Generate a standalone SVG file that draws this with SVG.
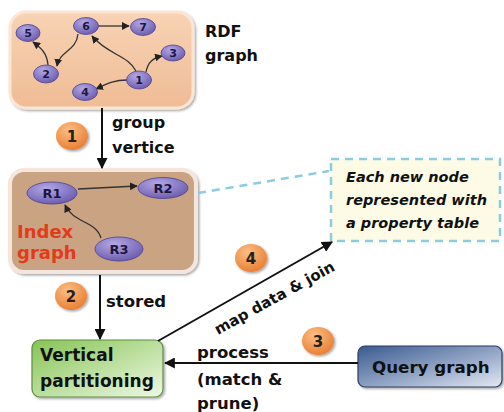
<svg xmlns="http://www.w3.org/2000/svg" width="504" height="412" viewBox="0 0 504 412">
<defs>
<linearGradient id="rdfFill" x1="0" y1="0" x2="0" y2="1"><stop offset="0" stop-color="#f8d3b4"/><stop offset="1" stop-color="#efbc95"/></linearGradient>
<radialGradient id="nodeFill" cx="0.4" cy="0.3" r="0.8"><stop offset="0" stop-color="#b3a8e6"/><stop offset="1" stop-color="#6554a8"/></radialGradient>
<radialGradient id="stepFill" cx="0.4" cy="0.3" r="0.8"><stop offset="0" stop-color="#fbbf85"/><stop offset="1" stop-color="#e8772a"/></radialGradient>
<linearGradient id="vpFill" x1="0" y1="0" x2="1" y2="1"><stop offset="0" stop-color="#86c454"/><stop offset="1" stop-color="#eef8e4"/></linearGradient>
<linearGradient id="qFill" x1="0" y1="0" x2="1" y2="1"><stop offset="0" stop-color="#3a5a90"/><stop offset="0.55" stop-color="#93a6c6"/><stop offset="1" stop-color="#e4e9f2"/></linearGradient>
<filter id="shadow" x="-20%" y="-20%" width="150%" height="150%"><feDropShadow dx="1.5" dy="1.5" stdDeviation="1.2" flood-color="#000" flood-opacity="0.35"/></filter>
<marker id="arr" viewBox="0 0 10 10" refX="9" refY="5" markerWidth="5.5" markerHeight="5.5" orient="auto"><path d="M0,0 L10,5 L0,10 z" fill="#111"/></marker>
<marker id="arrS" viewBox="0 0 10 10" refX="9" refY="5" markerWidth="6" markerHeight="6" orient="auto"><path d="M0,0 L10,5 L0,10 z" fill="#222"/></marker>
</defs>
<style>
.t{font-family:"DejaVu Sans",sans-serif;font-weight:bold;fill:#111}
.nl{font-family:"DejaVu Sans",sans-serif;font-weight:bold;fill:#1c1740;text-anchor:middle}
.node{fill:url(#nodeFill);stroke:#4d4290;stroke-width:0.8}
.step{fill:url(#stepFill);filter:url(#shadow)}
.conn{stroke:#111;stroke-width:2;fill:none}
.inner{stroke:#333;stroke-width:1.3;fill:none}
</style>

<g id="rdf-graph">
<rect x="10" y="12" width="183" height="96" rx="16" fill="url(#rdfFill)" stroke="#fbe6d6" stroke-width="3" filter="url(#shadow)"/>
<g class="inner">
<path d="M98,26 L129,26" marker-end="url(#arrS)"/>
<path d="M78,34 C76,52 60,50 57,66" marker-end="url(#arrS)"/>
<path d="M48,65 C47,53 41,48 33,42" marker-end="url(#arrS)"/>
<path d="M136,71 C128,55 108,55 92,36" marker-end="url(#arrS)"/>
<path d="M146,72 C148,62 153,58 162,56" marker-end="url(#arrS)"/>
<path d="M127,80 C112,80 105,85 96,89" marker-end="url(#arrS)"/>
</g>
<ellipse class="node" cx="28" cy="33" rx="12" ry="8.5"/><text class="nl" x="28" y="37" font-size="11">5</text>
<ellipse class="node" cx="86" cy="26" rx="12.5" ry="8.5"/><text class="nl" x="86" y="30" font-size="11">6</text>
<ellipse class="node" cx="143" cy="27" rx="12.5" ry="8.5"/><text class="nl" x="143" y="31" font-size="11">7</text>
<ellipse class="node" cx="173" cy="53" rx="12" ry="8"/><text class="nl" x="173" y="57" font-size="11">3</text>
<ellipse class="node" cx="46" cy="74" rx="12.5" ry="9"/><text class="nl" x="46" y="78" font-size="11">2</text>
<ellipse class="node" cx="139" cy="80" rx="12.5" ry="9"/><text class="nl" x="139" y="84" font-size="11">1</text>
<ellipse class="node" cx="85" cy="92" rx="12.5" ry="8.5"/><text class="nl" x="85" y="96" font-size="11">4</text>
<text class="t" x="205" y="37" font-size="16">RDF</text>
<text class="t" x="205" y="61" font-size="16">graph</text>
</g>

<g id="index-graph">
<rect x="10" y="170" width="186" height="102" rx="14" fill="#c9a382" stroke="#f4e6dc" stroke-width="4" filter="url(#shadow)"/>
<path class="inner" d="M78,189 L137,186" marker-end="url(#arrS)"/>
<path class="inner" d="M101,238 C95,220 74,224 65,205" marker-end="url(#arrS)"/>
<ellipse class="node" cx="52" cy="193" rx="25" ry="11"/><text class="nl" x="52" y="198" font-size="13">R1</text>
<ellipse class="node" cx="163" cy="188" rx="25" ry="10.5"/><text class="nl" x="163" y="193" font-size="13">R2</text>
<ellipse class="node" cx="119" cy="249" rx="24" ry="12"/><text class="nl" x="119" y="254" font-size="13">R3</text>
<text class="t" x="17" y="238" font-size="18" style="fill:#e33a1c">Index</text>
<text class="t" x="17" y="259" font-size="18" style="fill:#e33a1c">graph</text>
</g>

<g id="note">
<rect x="331" y="159" width="169" height="82" fill="#fdfbe6" stroke="#8ccbe0" stroke-width="2.5" stroke-dasharray="8 6"/>
<text class="t" x="346" y="182" font-size="14.5" font-style="italic">Each new node</text>
<text class="t" x="346" y="205" font-size="14.5" font-style="italic">represented with</text>
<text class="t" x="346" y="228" font-size="14.5" font-style="italic">a property table</text>
</g>

<g id="vertical-partitioning">
<rect x="32" y="340" width="131" height="57" rx="8" fill="url(#vpFill)" stroke="#5e8f42" stroke-width="1.2" filter="url(#shadow)"/>
<text class="t" x="40" y="361" font-size="17">Vertical</text>
<text class="t" x="40" y="387" font-size="17">partitioning</text>
</g>

<g id="query-graph">
<rect x="358" y="346" width="144" height="41" rx="7" fill="url(#qFill)" stroke="#2e3f60" stroke-width="1.2" filter="url(#shadow)"/>
<text class="t" x="372" y="373" font-size="16.7">Query graph</text>
</g>

<g id="connectors">
<line class="conn" x1="102" y1="108" x2="102" y2="168" marker-end="url(#arr)"/>
<line class="conn" x1="100" y1="275" x2="100" y2="339" marker-end="url(#arr)"/>
<line class="conn" x1="358" y1="363" x2="165" y2="363" marker-end="url(#arr)"/>
<line class="conn" x1="158" y1="341" x2="332" y2="242" marker-end="url(#arr)"/>
<line x1="198" y1="193" x2="329" y2="171" stroke="#8ccbe0" stroke-width="2.5" stroke-dasharray="8 6"/>
</g>

<g id="labels">
<text class="t" x="112" y="128" font-size="16">group</text>
<text class="t" x="112" y="153" font-size="16">vertice</text>
<text class="t" x="106" y="307" font-size="16.5">stored</text>
<text class="t" x="197" y="358" font-size="16.5">process</text>
<text class="t" x="197" y="385" font-size="16.5">(match &amp;</text>
<text class="t" x="197" y="409" font-size="16.5">prune)</text>
<text class="t" font-size="15" transform="translate(218,335) rotate(-29)">map data &amp; join</text>
</g>

<g id="steps">
<ellipse class="step" cx="72" cy="136" rx="16" ry="14"/><text class="nl" x="72" y="142" font-size="15" style="fill:#222">1</text>
<ellipse class="step" cx="71" cy="296" rx="16" ry="14"/><text class="nl" x="71" y="302" font-size="15" style="fill:#222">2</text>
<ellipse class="step" cx="318" cy="341" rx="16" ry="14"/><text class="nl" x="318" y="347" font-size="15" style="fill:#222">3</text>
<ellipse class="step" cx="251" cy="258" rx="16" ry="14"/><text class="nl" x="251" y="264" font-size="15" style="fill:#222">4</text>
</g>
</svg>
